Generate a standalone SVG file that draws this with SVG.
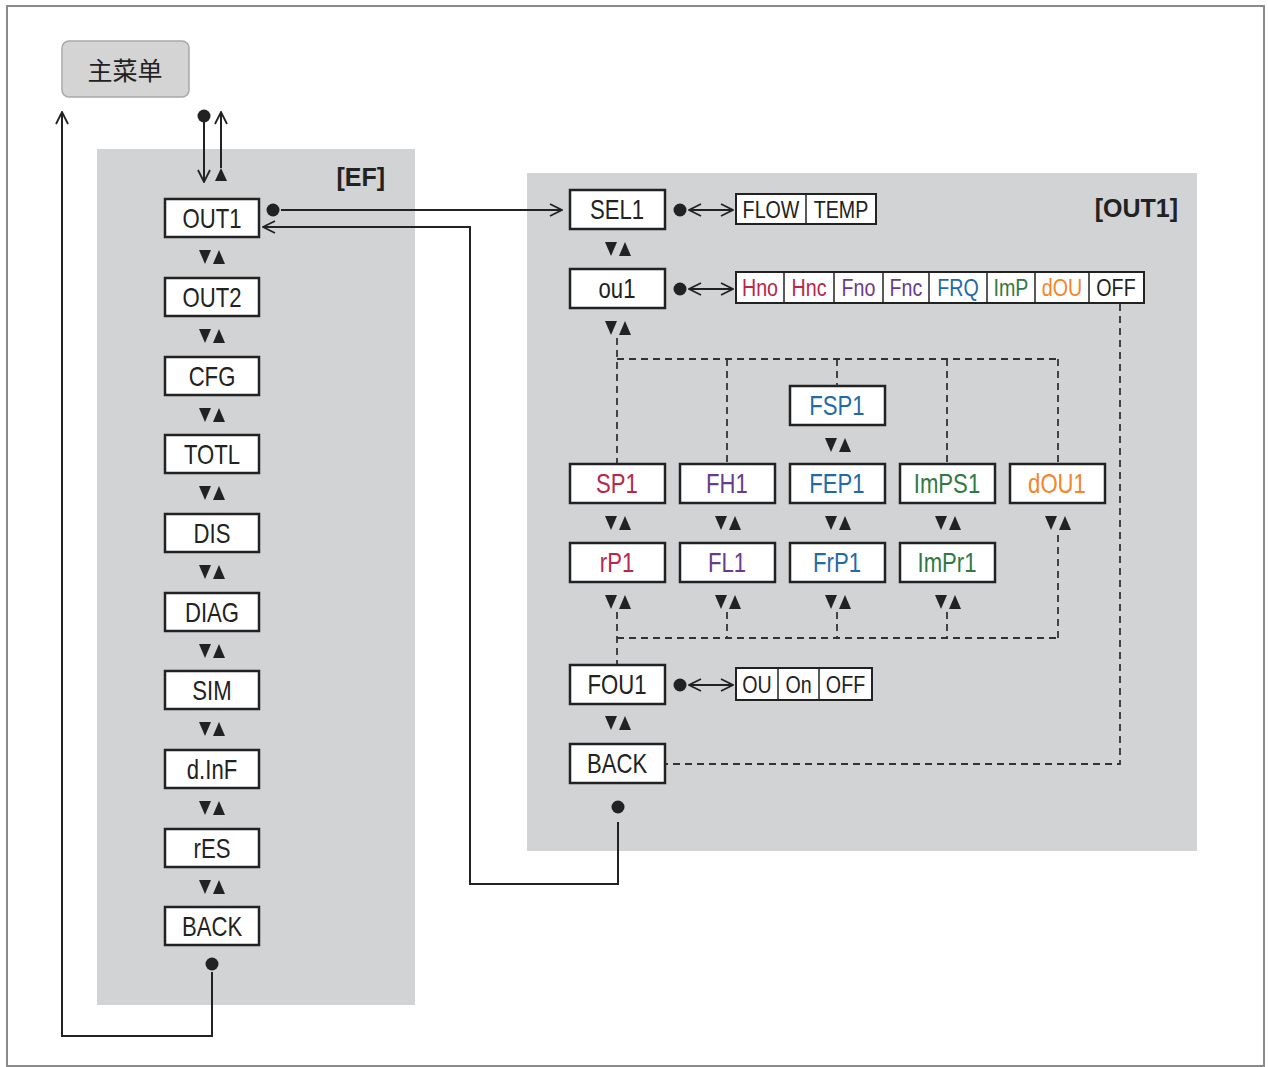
<svg xmlns="http://www.w3.org/2000/svg" xmlns:xlink="http://www.w3.org/1999/xlink" width="1268" height="1067" viewBox="0 0 1268 1067">
<style>
.panel{fill:#d1d3d4}
.box{fill:#fff;stroke:#222;stroke-width:2.5}
.opt{fill:#fff;stroke:#222;stroke-width:2}
.div{stroke:#222;stroke-width:1.5}
.t{font-family:"Liberation Sans",Arial,sans-serif;font-size:27px;text-anchor:middle;fill:#222;transform-box:fill-box;transform-origin:center;transform:scaleX(0.82)}
.o{font-family:"Liberation Sans",Arial,sans-serif;font-size:24px;text-anchor:middle;fill:#222;transform-box:fill-box;transform-origin:center;transform:scaleX(0.82)}
.lbl{font-family:"Liberation Sans",Arial,sans-serif;font-size:25px;font-weight:bold;text-anchor:end;fill:#222}
.ln{fill:none;stroke:#222;stroke-width:2}
.dash{fill:none;stroke:#333;stroke-width:1.8;stroke-dasharray:7 5}
.red{fill:#b8264a}.pur{fill:#6b3b8b}.blu{fill:#1f6aa8}.grn{fill:#2f7a42}.org{fill:#f2862a}
</style>
<defs>
<marker id="ah" viewBox="0 0 14 14" refX="13" refY="7" markerWidth="14" markerHeight="14" markerUnits="userSpaceOnUse" orient="auto-start-reverse">
<path d="M1,1 L13,7 L1,13" fill="none" stroke="#222" stroke-width="1.8"/>
</marker>
<g id="ud">
<polygon points="-13,-7 -1,-7 -7,7" fill="#222"/>
<polygon points="1,7 13,7 7,-7" fill="#222"/>
</g>
</defs>
<rect x="7" y="6" width="1257" height="1060" fill="#fff" stroke="#8a8a8a" stroke-width="2"/>

<rect class="panel" x="97" y="149" width="318" height="856"/>
<rect class="panel" x="527" y="173" width="670" height="678"/>
<text class="lbl" x="385" y="186">[EF]</text>
<text class="lbl" x="1178" y="217">[OUT1]</text>

<g id="main-menu">
<rect x="62" y="41" width="127" height="56" rx="7" fill="#d4d4d4" stroke="#a8a8a8" stroke-width="1.5"/>
<text x="125" y="80" font-family="'Noto Sans CJK SC',sans-serif" font-size="25" text-anchor="middle" fill="#222">主菜单</text>
</g>

<g id="ef-nodes">
<g id="n-OUT1"><rect class="box" x="165" y="199" width="94" height="38"/><text class="t" x="212" y="228">OUT1</text></g>
<g id="n-OUT2"><rect class="box" x="165" y="278" width="94" height="38"/><text class="t" x="212" y="307">OUT2</text></g>
<g id="n-CFG"><rect class="box" x="165" y="357" width="94" height="38"/><text class="t" x="212" y="386">CFG</text></g>
<g id="n-TOTL"><rect class="box" x="165" y="435" width="94" height="38"/><text class="t" x="212" y="464">TOTL</text></g>
<g id="n-DIS"><rect class="box" x="165" y="514" width="94" height="38"/><text class="t" x="212" y="543">DIS</text></g>
<g id="n-DIAG"><rect class="box" x="165" y="593" width="94" height="38"/><text class="t" x="212" y="622">DIAG</text></g>
<g id="n-SIM"><rect class="box" x="165" y="671" width="94" height="38"/><text class="t" x="212" y="700">SIM</text></g>
<g id="n-dInF"><rect class="box" x="165" y="750" width="94" height="38"/><text class="t" x="212" y="779">d.InF</text></g>
<g id="n-rES"><rect class="box" x="165" y="829" width="94" height="38"/><text class="t" x="212" y="858">rES</text></g>
<g id="n-BACK-ef"><rect class="box" x="165" y="907" width="94" height="38"/><text class="t" x="212" y="936">BACK</text></g>
</g>

<g id="out1-nodes">
<g id="n-SEL1"><rect class="box" x="570" y="190" width="95" height="39"/><text class="t" x="617" y="219">SEL1</text></g>
<g id="n-ou1"><rect class="box" x="570" y="269" width="95" height="39"/><text class="t" x="617" y="298">ou1</text></g>
<g id="n-FSP1"><rect class="box" x="790" y="386" width="95" height="39"/><text class="t blu" x="837" y="415">FSP1</text></g>
<g id="n-SP1"><rect class="box" x="570" y="464" width="95" height="39"/><text class="t red" x="617" y="493">SP1</text></g>
<g id="n-FH1"><rect class="box" x="680" y="464" width="95" height="39"/><text class="t pur" x="727" y="493">FH1</text></g>
<g id="n-FEP1"><rect class="box" x="790" y="464" width="95" height="39"/><text class="t blu" x="837" y="493">FEP1</text></g>
<g id="n-ImPS1"><rect class="box" x="900" y="464" width="95" height="39"/><text class="t grn" x="947" y="493">ImPS1</text></g>
<g id="n-dOU1"><rect class="box" x="1010" y="464" width="95" height="39"/><text class="t org" x="1057" y="493">dOU1</text></g>
<g id="n-rP1"><rect class="box" x="570" y="543" width="95" height="39"/><text class="t red" x="617" y="572">rP1</text></g>
<g id="n-FL1"><rect class="box" x="680" y="543" width="95" height="39"/><text class="t pur" x="727" y="572">FL1</text></g>
<g id="n-FrP1"><rect class="box" x="790" y="543" width="95" height="39"/><text class="t blu" x="837" y="572">FrP1</text></g>
<g id="n-ImPr1"><rect class="box" x="900" y="543" width="95" height="39"/><text class="t grn" x="947" y="572">ImPr1</text></g>
<g id="n-FOU1"><rect class="box" x="570" y="665" width="95" height="39"/><text class="t" x="617" y="694">FOU1</text></g>
<g id="n-BACK-out1"><rect class="box" x="570" y="744" width="95" height="39"/><text class="t" x="617" y="773">BACK</text></g>
</g>

<g id="opt-sel1">
<rect class="opt" x="736" y="194" width="140" height="30"/>
<line class="div" x1="806" y1="194" x2="806" y2="224"/>
<text class="o" x="771" y="218">FLOW</text><text class="o" x="841" y="218">TEMP</text>
</g>
<g id="opt-ou1">
<rect class="opt" x="736" y="272" width="408" height="31"/>
<line class="div" x1="784" y1="272" x2="784" y2="303"/>
<line class="div" x1="834" y1="272" x2="834" y2="303"/>
<line class="div" x1="883" y1="272" x2="883" y2="303"/>
<line class="div" x1="929" y1="272" x2="929" y2="303"/>
<line class="div" x1="987" y1="272" x2="987" y2="303"/>
<line class="div" x1="1035" y1="272" x2="1035" y2="303"/>
<line class="div" x1="1089" y1="272" x2="1089" y2="303"/>
<text class="o red" x="760" y="296">Hno</text>
<text class="o red" x="809" y="296">Hnc</text>
<text class="o pur" x="858.5" y="296">Fno</text>
<text class="o pur" x="906" y="296">Fnc</text>
<text class="o blu" x="958" y="296">FRQ</text>
<text class="o grn" x="1011" y="296">ImP</text>
<text class="o org" x="1062" y="296">dOU</text>
<text class="o" x="1116" y="296">OFF</text>
</g>
<g id="opt-fou1">
<rect class="opt" x="736" y="668" width="136" height="32"/>
<line class="div" x1="778" y1="668" x2="778" y2="700"/>
<line class="div" x1="819" y1="668" x2="819" y2="700"/>
<text class="o" x="757" y="693">OU</text><text class="o" x="798.5" y="693">On</text><text class="o" x="845.5" y="693">OFF</text>
</g>

<g id="connectors">
<circle cx="204" cy="116" r="6.5" fill="#222"/>
<line class="ln" x1="204" y1="122" x2="204" y2="182" marker-end="url(#ah)"/>
<line class="ln" x1="221" y1="168" x2="221" y2="112" marker-end="url(#ah)"/>
<polygon points="215,181 227,181 221,168" fill="#222"/>
<circle cx="212" cy="964" r="6.5" fill="#222"/>
<polyline class="ln" points="212,972 212,1036 62,1036 62,112" marker-end="url(#ah)"/>
<circle cx="273" cy="210" r="6.5" fill="#222"/>
<line class="ln" x1="281" y1="210" x2="562" y2="210" marker-end="url(#ah)"/>
<circle cx="618" cy="807" r="6.5" fill="#222"/>
<polyline class="ln" points="618,822 618,884 470,884 470,227 263,227" marker-end="url(#ah)"/>
<circle cx="680" cy="210" r="6.5" fill="#222"/>
<line class="ln" x1="689" y1="210" x2="733" y2="210" marker-start="url(#ah)" marker-end="url(#ah)"/>
<circle cx="680" cy="289" r="6.5" fill="#222"/>
<line class="ln" x1="689" y1="289" x2="733" y2="289" marker-start="url(#ah)" marker-end="url(#ah)"/>
<circle cx="680" cy="685" r="6.5" fill="#222"/>
<line class="ln" x1="689" y1="685" x2="733" y2="685" marker-start="url(#ah)" marker-end="url(#ah)"/>
<use xlink:href="#ud" x="212" y="257"/>
<use xlink:href="#ud" x="212" y="336"/>
<use xlink:href="#ud" x="212" y="415"/>
<use xlink:href="#ud" x="212" y="493"/>
<use xlink:href="#ud" x="212" y="572"/>
<use xlink:href="#ud" x="212" y="651"/>
<use xlink:href="#ud" x="212" y="729"/>
<use xlink:href="#ud" x="212" y="808"/>
<use xlink:href="#ud" x="212" y="887"/>
<use xlink:href="#ud" x="618" y="249"/>
<use xlink:href="#ud" x="618" y="328"/>
<use xlink:href="#ud" x="838" y="445"/>
<use xlink:href="#ud" x="618" y="523"/>
<use xlink:href="#ud" x="728" y="523"/>
<use xlink:href="#ud" x="838" y="523"/>
<use xlink:href="#ud" x="948" y="523"/>
<use xlink:href="#ud" x="1058" y="523"/>
<use xlink:href="#ud" x="618" y="602"/>
<use xlink:href="#ud" x="728" y="602"/>
<use xlink:href="#ud" x="838" y="602"/>
<use xlink:href="#ud" x="948" y="602"/>
<use xlink:href="#ud" x="618" y="723"/>
<path class="dash" d="M617,338 V463 M617,359 H1058 M727,359 V463 M837,359 V386 M947,359 V463 M1058,359 V463"/>
<path class="dash" d="M617,612 V664 M617,638 H1058 M727,612 V638 M837,612 V638 M947,612 V638 M1058,535 V638"/>
<path class="dash" d="M1120,304 V764 H666"/>
</g>
</svg>
